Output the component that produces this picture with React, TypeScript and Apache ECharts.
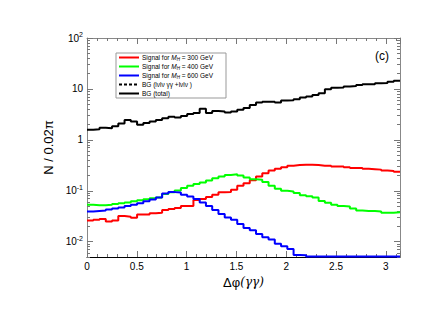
import React, { useEffect, useRef } from 'react';
import * as echarts from 'echarts';

// Histogram: 50 bins of width 0.02*pi over [0, pi]
const NBINS = 50;
const X_MAX = Math.PI;

const sig300: number[] = [
  0.026, 0.027, 0.028, 0.025, 0.026, 0.032, 0.031, 0.0295, 0.034, 0.034,
  0.036, 0.037, 0.042, 0.044, 0.046, 0.050, 0.050, 0.066, 0.069, 0.075,
  0.083, 0.093, 0.095, 0.105, 0.125, 0.14, 0.16, 0.19, 0.22, 0.25,
  0.27, 0.29, 0.31, 0.32, 0.325, 0.325, 0.32, 0.31, 0.31, 0.30,
  0.30, 0.29, 0.28, 0.28, 0.27, 0.265, 0.26, 0.25, 0.245, 0.235,
];
const sig400: number[] = [
  0.053, 0.052, 0.052, 0.053, 0.055, 0.057, 0.059, 0.062, 0.065, 0.068,
  0.071, 0.074, 0.086, 0.093, 0.101, 0.113, 0.125, 0.135, 0.146, 0.159,
  0.177, 0.19, 0.205, 0.21, 0.2, 0.182, 0.168, 0.165, 0.148, 0.125,
  0.11, 0.10, 0.097, 0.09, 0.082, 0.078, 0.074, 0.063, 0.058, 0.053,
  0.050, 0.049, 0.045, 0.041, 0.040, 0.040, 0.039, 0.037, 0.037, 0.038,
];
const sig600: number[] = [
  0.039, 0.040, 0.041, 0.043, 0.045, 0.047, 0.050, 0.053, 0.057, 0.062,
  0.067, 0.074, 0.088, 0.094, 0.092, 0.083, 0.077, 0.069, 0.059, 0.050,
  0.042, 0.035, 0.030, 0.027, 0.0222, 0.0186, 0.0167, 0.0141, 0.0122, 0.011,
  0.0091, 0.0081, 0.0072, 0.0055, 0.0054, 0.0051, 0.0051, 0.0051, 0.0051, 0.0051,
  0.0051, 0.0051, 0.0051, 0.0051, 0.0051, 0.0051, 0.0051, 0.0051, 0.0051, 0.0051,
];
const bgTotal: number[] = [
  1.57, 1.62, 1.72, 1.68, 1.85, 2.1, 2.45, 2.3, 1.97, 2.15,
  2.3, 2.45, 2.65, 2.85, 2.75, 2.95, 3.2, 3.35, 4.1, 3.35,
  3.7, 3.6, 3.45, 3.6, 3.9, 4.2, 4.85, 5.4, 5.6, 5.6,
  5.4, 5.9, 6.0, 6.25, 6.75, 7.07, 7.6, 8.2, 9.9, 10.6,
  10.7, 11.1, 11.4, 11.9, 12.3, 12.4, 12.9, 13.1, 13.9, 14.5,
];

const xTickLabels = ['0', '0.5', '1', '1.5', '2', '2.5', '3'];
const yMajorValues = [0.01, 0.1, 1, 10, 100];
const yMajorLabels = ['10{sup|-2}', '10{sup|-1}', '1', '10', '10{sup|2}'];

const legendNames = [
  'Signal for {i|M}{s|H} = 300 GeV',
  'Signal for {i|M}{s|H} = 400 GeV',
  'Signal for {i|M}{s|H} = 600 GeV',
  'BG (lνlν γγ +lνlν )',
  'BG (total)',
];
const legendColors = ['#ff0000', '#00ff00', '#0000ff', '#000000', '#000000'];

const FONT = 'Liberation Sans, Arial, Helvetica, sans-serif';

function toSteps(vals: number[]): number[][] {
  const w = X_MAX / NBINS;
  const pts = vals.map((v, i) => [i * w, v]);
  pts.push([X_MAX, vals[vals.length - 1]]);
  return pts;
}

function minorLogValues(): number[] {
  const out: number[] = [];
  for (let k = -3; k <= 1; k++) {
    for (let m = 2; m <= 9; m++) {
      const v = parseFloat((m * Math.pow(10, k)).toPrecision(3));
      if (v >= 0.005 && v <= 100) out.push(v);
    }
  }
  return out;
}

export default function App() {
  const ref = useRef<HTMLDivElement>(null);
  useEffect(() => {
    if (!ref.current) return;
    const chart = echarts.init(ref.current, undefined, { renderer: 'svg' });
    const minorVals = minorLogValues();
    const tickColor = '#777';
    const frameColor = '#888';

    const xBase = {
      type: 'value' as const,
      min: 0,
      max: X_MAX,
      interval: 0.5,
      splitLine: { show: false },
      minorSplitLine: { show: false },
      axisLine: { onZero: false, lineStyle: { color: frameColor, width: 1 } },
      axisTick: { inside: true, length: 6, lineStyle: { color: tickColor } },
      minorTick: { show: true, splitNumber: 5, length: 3, lineStyle: { color: tickColor } },
    };

    const yBase = (pos: 'left' | 'right', major: boolean) => ({
      type: 'log' as const,
      logBase: 10,
      min: 0.005,
      max: 100,
      position: pos,
      splitLine: { show: false },
      axisLine: { show: major, onZero: false, lineStyle: { color: frameColor, width: 1 } },
      axisTick: {
        inside: true,
        length: major ? 6 : 3,
        lineStyle: { color: tickColor },
        customValues: major ? yMajorValues : minorVals,
      },
      axisLabel: { show: false },
    });

    const yLeftMajor: any = yBase('left', true);
    yLeftMajor.axisLabel = {
      show: true,
      customValues: yMajorValues,
      margin: 4,
      color: '#000',
      fontFamily: FONT,
      fontSize: 10,
      formatter: (v: number) => {
        const idx = yMajorValues.findIndex((m) => Math.abs(m - v) / m < 1e-6);
        return idx >= 0 ? yMajorLabels[idx] : '';
      },
      rich: {
        sup: { fontSize: 7, fontFamily: FONT, color: '#000', padding: [0, 0, 7, 0] },
      },
    };
    yLeftMajor.name = 'N / 0.02π';
    yLeftMajor.nameLocation = 'middle';
    yLeftMajor.nameRotate = 90;
    yLeftMajor.nameGap = 19;
    yLeftMajor.nameTextStyle = { fontFamily: FONT, fontSize: 13, color: '#000' };

    const mkSeries = (name: string, vals: number[], color: string) => ({
      name,
      type: 'line' as const,
      step: 'end' as const,
      xAxisIndex: 0,
      yAxisIndex: 0,
      data: toSteps(vals),
      showSymbol: false,
      symbol: 'none',
      clip: false,
      lineStyle: { color, width: 2 },
      itemStyle: { color },
    });

    // legend (drawn as graphic)
    const legBox = { x: 116, y: 53, w: 110, h: 45 };
    const rowH = 9;
    const legendGraphics: any[] = [
      {
        type: 'rect',
        shape: { x: legBox.x, y: legBox.y, width: legBox.w, height: legBox.h },
        style: { fill: '#fff', stroke: '#999', lineWidth: 1 },
        z: 10,
      },
    ];
    legendNames.forEach((txt, i) => {
      const cy = legBox.y + 4.5 + rowH * i;
      legendGraphics.push({
        type: 'line',
        shape: { x1: 119, y1: cy, x2: 139, y2: cy },
        style: {
          stroke: legendColors[i],
          lineWidth: 2,
          lineDash: i === 3 ? [3, 2] : null,
        },
        z: 11,
      });
      legendGraphics.push({
        type: 'text',
        x: 142,
        y: cy,
        style: {
          text: txt,
          fontFamily: FONT,
          fontSize: 6.5,
          fill: '#000',
          verticalAlign: 'middle',
          align: 'left',
          rich: {
            i: { fontStyle: 'italic', fontSize: 6.5, fontFamily: FONT },
            s: { fontStyle: 'italic', fontSize: 4.5, fontFamily: FONT, padding: [3, 0, 0, 0] },
          },
        },
        z: 11,
      });
    });
    legendGraphics.push({
      type: 'text',
      x: 382,
      y: 56,
      style: {
        text: '(c)',
        fontFamily: FONT,
        fontSize: 12,
        fill: '#000',
        align: 'center',
        verticalAlign: 'middle',
      },
      z: 11,
    });

    chart.setOption({
      animation: false,
      backgroundColor: '#fff',
      grid: { left: 87, right: 36, top: 38, bottom: 59, containLabel: false },
      xAxis: [
        {
          ...xBase,
          position: 'bottom',
          axisLine: { onZero: false, lineStyle: { color: '#000', width: 1 } },
          axisLabel: {
            show: true,
            margin: 4,
            color: '#000',
            fontFamily: FONT,
            fontSize: 10,
            showMaxLabel: false,
            formatter: (v: number) => {
              const idx = Math.round(v / 0.5);
              return Math.abs(v - idx * 0.5) < 1e-6 && idx < xTickLabels.length ? xTickLabels[idx] : '';
            },
          },
          name: '{n|Δφ}{i|(γγ)}',
          nameLocation: 'middle',
          nameGap: 18,
          nameTextStyle: {
            fontFamily: FONT,
            fontSize: 13,
            color: '#000',
            verticalAlign: 'top',
            rich: {
              n: { fontFamily: FONT, fontSize: 13, color: '#000' },
              i: { fontFamily: 'DejaVu Serif, serif', fontStyle: 'italic', fontSize: 12, color: '#000' },
            },
          },
        },
        {
          ...xBase,
          position: 'top',
          axisLabel: { show: false },
        },
      ],
      yAxis: [yLeftMajor, yBase('left', false), yBase('right', true), yBase('right', false)],
      series: [
        mkSeries('bg', bgTotal, '#000000'),
        mkSeries('s300', sig300, '#ff0000'),
        mkSeries('s400', sig400, '#00ff00'),
        mkSeries('s600', sig600, '#0000ff'),
      ],
      graphic: legendGraphics,
    });
    return () => chart.dispose();
  }, []);
  return (
    <div
      ref={ref}
      style={{ position: 'absolute', left: 0, top: 0, width: 436, height: 316 }}
    />
  );
}
